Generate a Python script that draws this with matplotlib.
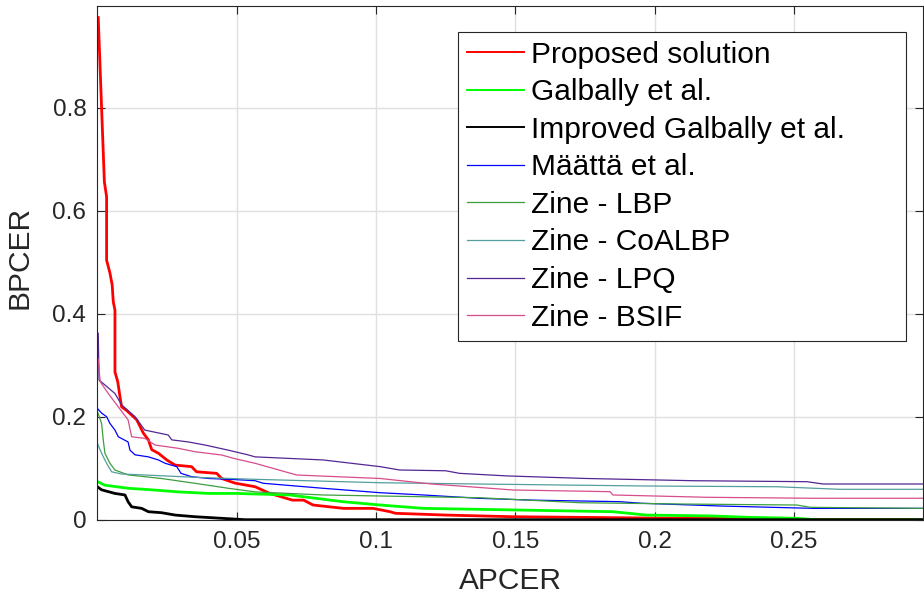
import matplotlib
matplotlib.use('Agg')
from matplotlib import pyplot as plt

plt.rcParams['font.family'] = ['Liberation Sans', 'DejaVu Sans']

# DET curves (APCER, BPCER)
proposed_x = [0.0003, 0.0015, 0.0025, 0.0033, 0.0033, 0.0045, 0.0053, 0.0057, 0.0063, 0.0063,
              0.0073, 0.0081, 0.0087, 0.0105, 0.0123, 0.0141, 0.0165, 0.0183, 0.0195, 0.0219,
              0.0249, 0.0279, 0.0338, 0.0356, 0.0428, 0.0446, 0.0494, 0.0566, 0.0619, 0.070,
              0.074, 0.0774, 0.0883, 0.099, 0.105, 0.107, 0.125, 0.149, 0.209, 0.238, 0.239, 0.2962]
proposed_y = [0.975, 0.800, 0.656, 0.627, 0.504, 0.479, 0.456, 0.423, 0.407, 0.287,
              0.268, 0.239, 0.219, 0.212, 0.203, 0.194, 0.168, 0.155, 0.136, 0.129,
              0.116, 0.106, 0.103, 0.093, 0.090, 0.080, 0.071, 0.064, 0.051, 0.038,
              0.038, 0.0285, 0.022, 0.022, 0.0155, 0.0124, 0.009, 0.0058, 0.0027, 0.0027, 0.0, 0.0]

galbally_x = [0.0, 0.0027, 0.011, 0.0195, 0.029, 0.040, 0.05, 0.069, 0.088, 0.1015,
              0.117, 0.149, 0.185, 0.197, 0.221, 0.233, 0.251, 0.258, 0.2962]
galbally_y = [0.074, 0.067, 0.061, 0.058, 0.054, 0.051, 0.051, 0.048, 0.035, 0.0285,
              0.022, 0.019, 0.0155, 0.009, 0.0072, 0.0047, 0.0027, 0.0, 0.0]

improved_x = [0.0, 0.0015, 0.0063, 0.0099, 0.011, 0.0123, 0.0159, 0.0183, 0.023, 0.0279,
              0.035, 0.0446, 0.053, 0.2962]
improved_y = [0.064, 0.058, 0.051, 0.048, 0.035, 0.025, 0.022, 0.0155, 0.0136, 0.009,
              0.0058, 0.0027, 0.0, 0.0]

maatta_x = [0.0, 0.0015, 0.0033, 0.0045, 0.0063, 0.0075, 0.011, 0.0117, 0.0135, 0.0183,
            0.0219, 0.0243, 0.0285, 0.030, 0.0338, 0.040, 0.049, 0.0566, 0.0595, 0.081,
            0.1015, 0.117, 0.137, 0.156, 0.1875, 0.195, 0.2235, 0.257, 0.2962]
maatta_y = [0.216, 0.207, 0.200, 0.187, 0.174, 0.161, 0.151, 0.135, 0.126, 0.122,
            0.116, 0.1095, 0.103, 0.090, 0.0835, 0.080, 0.078, 0.0757, 0.0707, 0.061,
            0.0524, 0.048, 0.0415, 0.038, 0.035, 0.032, 0.0266, 0.022, 0.022]

lbp_x = [0.0, 0.0015, 0.0021, 0.0027, 0.0045, 0.0063, 0.011, 0.023, 0.035, 0.047,
         0.0566, 0.081, 0.1015, 0.137, 0.173, 0.209, 0.251, 0.256, 0.2962]
lbp_y = [0.210, 0.187, 0.155, 0.129, 0.1095, 0.0965, 0.087, 0.080, 0.0707, 0.061,
         0.054, 0.048, 0.046, 0.0427, 0.033, 0.0305, 0.0285, 0.024, 0.022]

coalbp_x = [0.0, 0.0015, 0.0033, 0.0051, 0.0087, 0.017, 0.035, 0.0566, 0.1015, 0.137,
            0.197, 0.244, 0.2665, 0.2962]
coalbp_y = [0.148, 0.129, 0.1095, 0.093, 0.0887, 0.0868, 0.0823, 0.0784, 0.0718, 0.0693,
            0.0654, 0.064, 0.059, 0.059]

lpq_x = [0.0003, 0.0006, 0.0027, 0.0063, 0.0087, 0.0135, 0.017, 0.0254, 0.0267, 0.0326,
         0.0386, 0.047, 0.054, 0.0566, 0.081, 0.1015, 0.1085, 0.125, 0.130, 0.147,
         0.1756, 0.2138, 0.2546, 0.2605, 0.2962]
lpq_y = [0.362, 0.271, 0.2616, 0.245, 0.223, 0.200, 0.174, 0.1645, 0.155, 0.151,
         0.145, 0.135, 0.126, 0.122, 0.116, 0.103, 0.0965, 0.095, 0.090, 0.085,
         0.080, 0.0757, 0.0738, 0.0693, 0.0693]

bsif_x = [0.0003, 0.001, 0.0039, 0.0075, 0.011, 0.0123, 0.017, 0.0207, 0.029, 0.035,
          0.0446, 0.049, 0.0566, 0.0715, 0.1015, 0.120, 0.136, 0.149, 0.184, 0.185,
          0.219, 0.257, 0.2962]
bsif_y = [0.312, 0.268, 0.245, 0.219, 0.194, 0.161, 0.158, 0.145, 0.1386, 0.132,
          0.1256, 0.119, 0.1095, 0.0868, 0.080, 0.0693, 0.063, 0.0577, 0.0544, 0.048,
          0.0435, 0.0416, 0.0416]

labels = ['Proposed solution', 'Galbally et al.', 'Improved Galbally et al.', 'Määttä et al.',
          'Zine - LBP', 'Zine - CoALBP', 'Zine - LPQ', 'Zine - BSIF']

fig = plt.figure(figsize=(9.24, 5.98), dpi=100)
ax = fig.add_axes([97.4 / 924, 1 - 519.7 / 598, 825.3 / 924, 514 / 598])

ax.plot(proposed_x, proposed_y, color=(1, 0, 0), lw=2.0, label=labels[0])
ax.plot(galbally_x, galbally_y, color=(0, 1, 0), lw=2.0, label=labels[1])
ax.plot(improved_x, improved_y, color='black', lw=2.0, label=labels[2])
ax.plot(maatta_x, maatta_y, color=(0, 0, 1), lw=0.9, label=labels[3])
ax.plot(lbp_x, lbp_y, color=(0.24, 0.62, 0.24), lw=0.9, label=labels[4])
ax.plot(coalbp_x, coalbp_y, color=(0.33, 0.62, 0.62), lw=0.9, label=labels[5])
ax.plot(lpq_x, lpq_y, color=(0.33, 0.15, 0.58), lw=0.9, label=labels[6])
ax.plot(bsif_x, bsif_y, color=(0.84, 0.3, 0.55), lw=0.9, label=labels[7])

ax.set_xlim(0, 0.2962)
ax.set_ylim(0, 0.998)
ax.set_xticks([0.05, 0.1, 0.15, 0.2, 0.25])
ax.set_xticklabels(['0.05', '0.1', '0.15', '0.2', '0.25'])
ax.set_yticks([0, 0.2, 0.4, 0.6, 0.8])
ax.set_yticklabels(['0', '0.2', '0.4', '0.6', '0.8'])

dark = (0.15, 0.15, 0.15)
ax.grid(True, color=(0.88, 0.88, 0.88), lw=1.0)
ax.set_axisbelow(True)
ax.tick_params(direction='in', length=6, width=0.8, colors=dark, labelsize=17.5,
               top=True, right=True, pad=8)
for s in ax.spines.values():
    s.set_color(dark)
    s.set_linewidth(0.8)

ax.set_xlabel('APCER', fontsize=21.5, color=dark, labelpad=10)
ax.set_ylabel('BPCER', fontsize=21.5, color=dark)
ax.yaxis.set_label_coords(-0.078, 0.51)

leg = ax.legend(loc='upper left', bbox_to_anchor=(0.4373, 0.354, 0.5421, 0.5954),
                mode='expand', borderaxespad=0, fontsize=21.5, handlelength=1.9,
                handletextpad=0.25, labelspacing=0.32, borderpad=0.3,
                fancybox=False, framealpha=1)
leg.get_frame().set_edgecolor(dark)
leg.get_frame().set_linewidth(0.8)
for ln in leg.get_lines()[:3]:
    ln.set_linewidth(1.4)

fig.savefig('out.png', dpi=100)
